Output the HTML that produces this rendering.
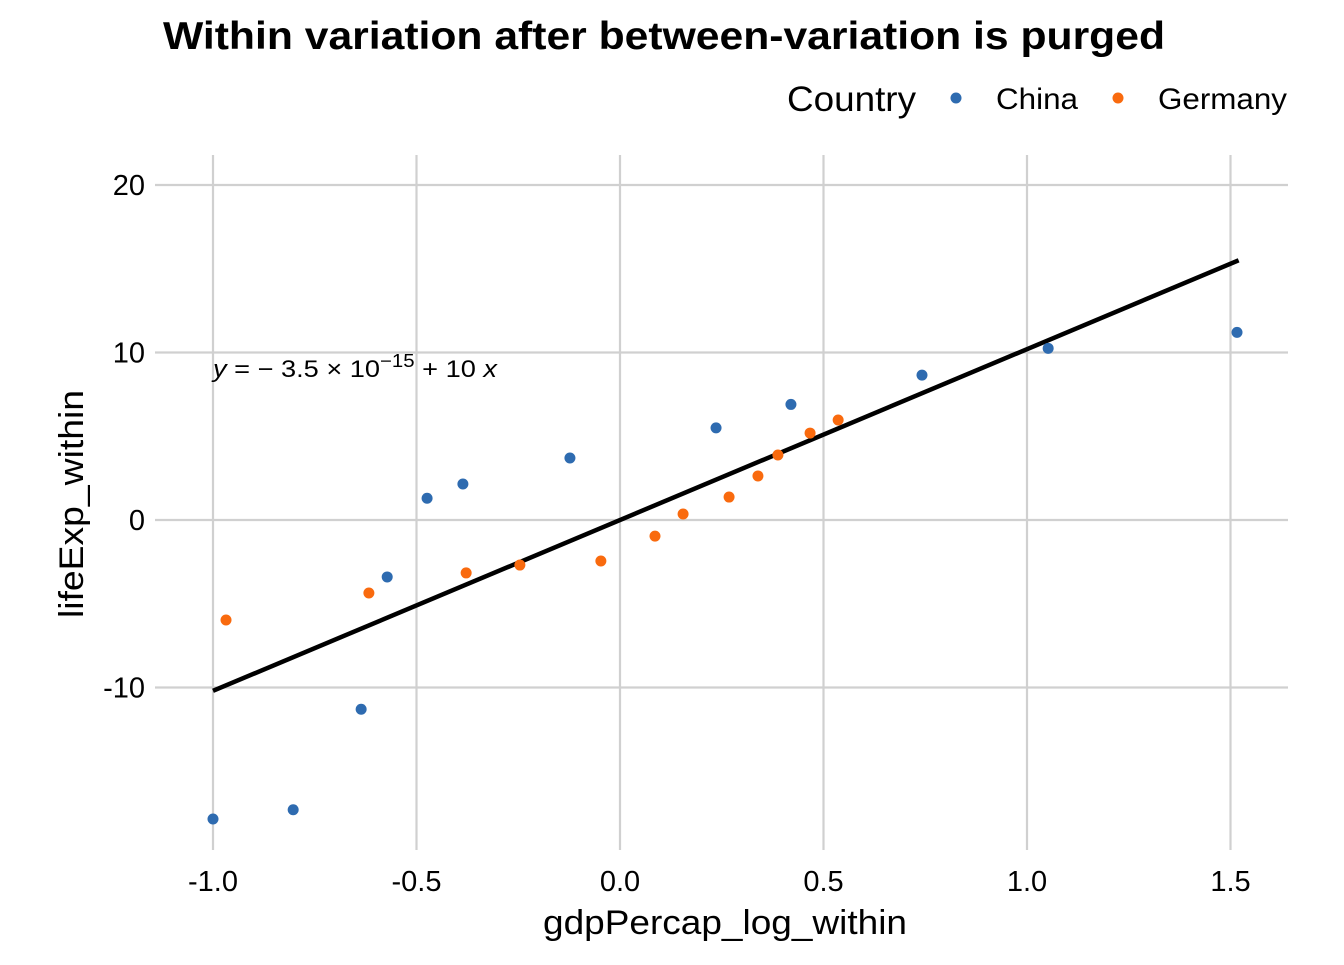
<!DOCTYPE html>
<html><head><meta charset="utf-8">
<style>
body{margin:0;background:#fff;font-family:"Liberation Sans",Arial,sans-serif;}
svg text{font-family:"Liberation Sans",Arial,sans-serif;}
</style></head>
<body>
<svg id="chart" width="1344" height="960" xmlns="http://www.w3.org/2000/svg">
<g id="grid"></g>
<g id="marks"></g>
<g id="axes"></g>
<text x="163" y="49" font-size="39" font-weight="bold" textLength="1002" lengthAdjust="spacingAndGlyphs">Within variation after between-variation is purged</text>
<g>
<text x="787" y="111" font-size="35" textLength="129" lengthAdjust="spacingAndGlyphs">Country</text>
<circle cx="956" cy="98" r="5.5" fill="#2e6bb0"/>
<text x="996" y="109" font-size="30" textLength="82" lengthAdjust="spacingAndGlyphs">China</text>
<circle cx="1118" cy="98" r="5.5" fill="#f96a0e"/>
<text x="1158" y="109" font-size="30" textLength="129" lengthAdjust="spacingAndGlyphs">Germany</text>
</g>
<text x="213" y="377" font-size="24" textLength="284" lengthAdjust="spacingAndGlyphs"><tspan font-style="italic">y</tspan> = − 3.5 × 10<tspan dy="-10" font-size="18">−15</tspan><tspan dy="10"> + 10 </tspan><tspan font-style="italic">x</tspan></text>
<text x="543" y="934" font-size="34" textLength="364" lengthAdjust="spacingAndGlyphs">gdpPercap_log_within</text>
<text transform="translate(83,618) rotate(-90)" font-size="34" textLength="228" lengthAdjust="spacingAndGlyphs">lifeExp_within</text>
</svg>
<script>
const chinaX=[-1.0,-0.803,-0.636,-0.572,-0.474,-0.386,-0.123,0.236,0.42,0.742,1.052,1.516];
const chinaY=[-17.85,-17.3,-11.3,-3.4,1.3,2.15,3.7,5.5,6.9,8.65,10.25,11.2];
const germanyX=[-0.968,-0.617,-0.378,-0.246,-0.047,0.086,0.155,0.268,0.339,0.388,0.467,0.536];
const germanyY=[-5.97,-4.36,-3.16,-2.69,-2.45,-0.96,0.36,1.37,2.63,3.88,5.19,5.97];
const xTicks=[-1.0,-0.5,0.0,0.5,1.0,1.5];
const xTickLabels=["-1.0","-0.5","0.0","0.5","1.0","1.5"];
const yTicks=[-10,0,10,20];
const yTickLabels=["-10","0","10","20"];
const fitIntercept=0;
const fitSlope=10.2;
const fitRange=[-1.0,1.52];

const NS="http://www.w3.org/2000/svg";
const sx=v=>620+v*407;
const sy=v=>520-v*16.75;
const P={l:155,r:1288,t:155,b:850};
function mk(tag,attrs,parent){const e=document.createElementNS(NS,tag);for(const k in attrs)e.setAttribute(k,attrs[k]);parent.appendChild(e);return e;}
const grid=document.getElementById('grid'),marks=document.getElementById('marks'),axes=document.getElementById('axes');
xTicks.forEach((t,i)=>{
  const l=mk('line',{x1:sx(t),x2:sx(t),y1:P.t,y2:P.b,stroke:'#d0d0d0','stroke-width':2.2},grid);
  
  
  const tx=mk('text',{x:sx(t),y:891,'text-anchor':'middle','font-size':29,fill:'#000'},axes);
  tx.textContent=xTickLabels[i];
  
  
});
yTicks.forEach((t,i)=>{
  const l=mk('line',{x1:P.l,x2:P.r,y1:sy(t),y2:sy(t),stroke:'#d0d0d0','stroke-width':2.2},grid);
  
  
  const tx=mk('text',{x:145,y:sy(t)+10,'text-anchor':'end','font-size':29,fill:'#000'},axes);
  tx.textContent=yTickLabels[i];
  
  
});
const fl=mk('line',{x1:sx(fitRange[0]),y1:sy(fitIntercept+fitSlope*fitRange[0]),x2:sx(fitRange[1]),y2:sy(fitIntercept+fitSlope*fitRange[1]),stroke:'#000','stroke-width':4.5},marks);


chinaX.forEach((x,i)=>{
  const c=mk('circle',{cx:sx(x),cy:sy(chinaY[i]),r:5.5,fill:'#2e6bb0'},marks);
  
  
});
germanyX.forEach((x,i)=>{
  const c=mk('circle',{cx:sx(x),cy:sy(germanyY[i]),r:5.5,fill:'#f96a0e'},marks);
  
  
});
</script>
</body></html>
